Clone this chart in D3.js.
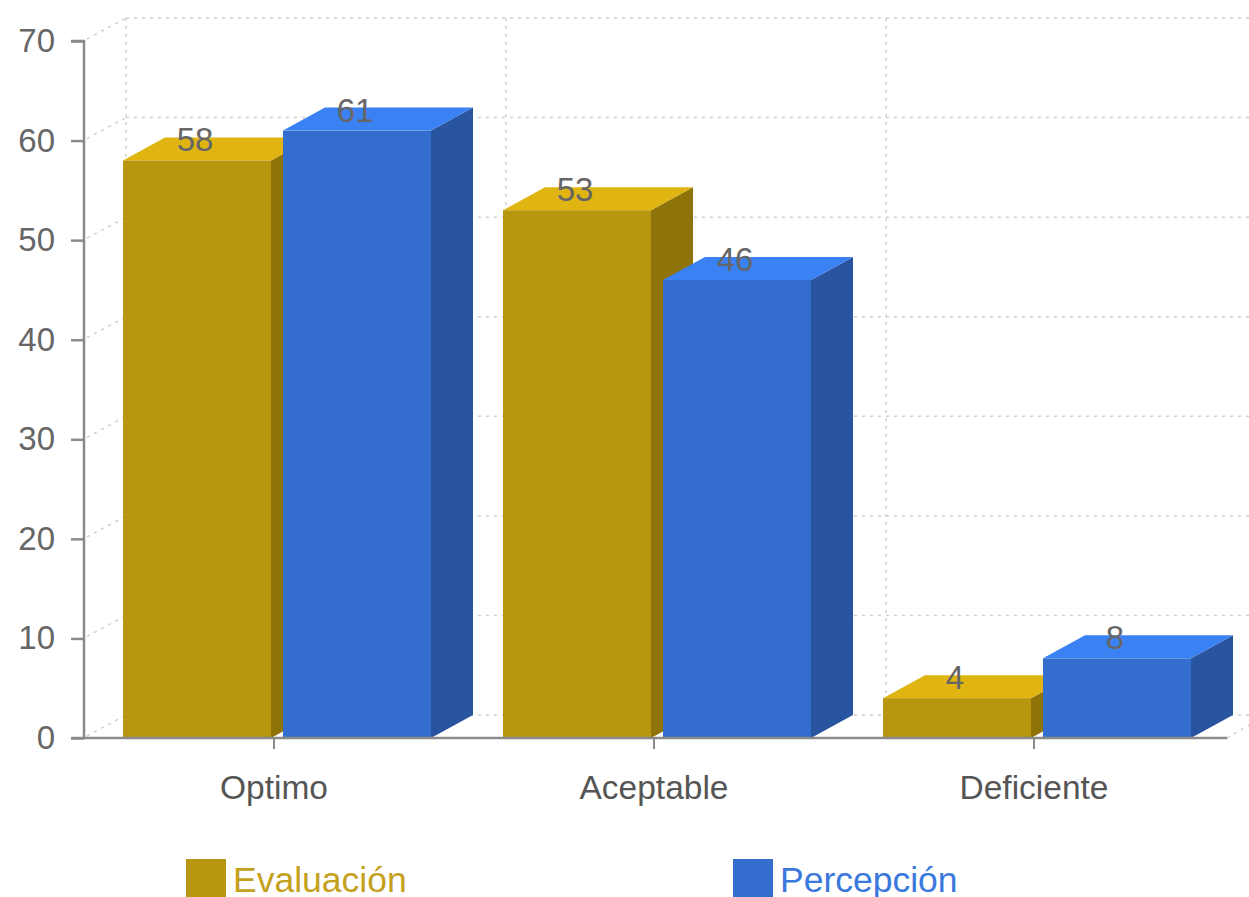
<!DOCTYPE html>
<html>
<head>
<meta charset="utf-8">
<script src="https://cdn.jsdelivr.net/npm/d3@7"></script>
<style>
  html, body { margin: 0; padding: 0; background: #ffffff; }
  svg { display: block; font-family: "Liberation Sans", Arial, sans-serif; }
</style>
</head>
<body>
<svg id="chart" width="1249" height="897"></svg>
<script>
// Chart data
const categories = ["Optimo", "Aceptable", "Deficiente"];
const seriesNames = ["Evaluación", "Percepción"];
const evaluacion = [58, 53, 4];
const percepcion = [61, 46, 8];
const yTicks = [0, 10, 20, 30, 40, 50, 60, 70];

const seriesValues = [evaluacion, percepcion];

// Face colours per series: front, top, side
const palette = [
  { front: "#b8960f", top: "#e0b512", side: "#8e7309", legend: "#c4a11c" },
  { front: "#336dcd", top: "#3a82f3", side: "#29549f", legend: "#3a78dd" }
];

const svg = d3.select("#chart");

// Plot geometry
const plotLeft = 84, plotRight = 1224, plotTop = 41, plotBottom = 738;
const depthX = 42, depthY = -23;

const y = d3.scaleLinear().domain([0, 70]).range([plotBottom, plotTop]);
const x0 = d3.scaleBand().domain(categories).range([plotLeft, plotRight]).paddingInner(0).paddingOuter(0);
const x1 = d3.scaleBand().domain(seriesNames).range([39, 347]).paddingInner(0.075).paddingOuter(0);

const gridColor = "#cfcfcf";
const dash = "3,5";

// Back wall: horizontal grid lines
const grid = svg.append("g");
yTicks.forEach(t => {
  const yy = y(t);
  grid.append("line")
    .attr("x1", plotLeft + depthX).attr("x2", 1249 + 40)
    .attr("y1", yy + depthY).attr("y2", yy + depthY)
    .attr("stroke", gridColor).attr("stroke-width", 1.5).attr("stroke-dasharray", dash);
  // left wall diagonal
  grid.append("line")
    .attr("x1", plotLeft + 3).attr("y1", yy - 2)
    .attr("x2", plotLeft + depthX).attr("y2", yy + depthY)
    .attr("stroke", gridColor).attr("stroke-width", 1.5).attr("stroke-dasharray", dash);
});

// Back wall: vertical grid lines at category boundaries
categories.forEach(c => {
  const xx = x0(c) + depthX;
  grid.append("line")
    .attr("x1", xx).attr("x2", xx)
    .attr("y1", y(70) + depthY).attr("y2", y(0) + depthY)
    .attr("stroke", gridColor).attr("stroke-width", 1.5).attr("stroke-dasharray", dash);
});

// Floor right edge diagonal
grid.append("line")
  .attr("x1", plotRight + 3).attr("y1", plotBottom)
  .attr("x2", plotRight + depthX).attr("y2", plotBottom + depthY)
  .attr("stroke", gridColor).attr("stroke-width", 1.5).attr("stroke-dasharray", dash);

// Bars as boxes
const bars = svg.append("g");
categories.forEach((c, ci) => {
  seriesNames.forEach((s, si) => {
    const v = seriesValues[si][ci];
    const bx = x0(c) + x1(s);
    const w = x1.bandwidth();
    const yt = y(v), yb = y(0);
    const col = palette[si];
    const g = bars.append("g");
    g.append("polygon")
      .attr("points", [[bx + w, yt], [bx + w + depthX, yt + depthY], [bx + w + depthX, yb + depthY], [bx + w, yb]].join(" "))
      .attr("fill", col.side);
    g.append("polygon")
      .attr("points", [[bx, yt], [bx + depthX, yt + depthY], [bx + w + depthX, yt + depthY], [bx + w, yt]].join(" "))
      .attr("fill", col.top);
    g.append("rect")
      .attr("x", bx).attr("y", yt).attr("width", w).attr("height", yb - yt)
      .attr("fill", col.front);
  });
});

// Value labels
const labels = svg.append("g")
  .attr("font-size", 33).attr("fill", "#666666").attr("text-anchor", "middle");
categories.forEach((c, ci) => {
  seriesNames.forEach((s, si) => {
    const v = seriesValues[si][ci];
    labels.append("text")
      .attr("x", x0(c) + x1(s) + x1.bandwidth() / 2 - 2)
      .attr("y", y(v) - 9)
      .text(v);
  });
});

// Y axis
const axisColor = "#8a8a8a";
const yAxis = d3.axisLeft(y).tickValues(yTicks).tickSize(13).tickPadding(16).tickFormat(d3.format("d"));
const yg = svg.append("g").attr("transform", `translate(${plotLeft},0)`).call(yAxis);
yg.select(".domain").attr("stroke", axisColor).attr("stroke-width", 2.5).attr("d", `M-13,${y(70)}H0V${y(0)}`);
yg.selectAll(".tick line").attr("stroke", axisColor).attr("stroke-width", 2.5);
yg.selectAll(".tick text").attr("font-size", 33).attr("fill", "#666666")
  .attr("font-family", "'Liberation Sans', Arial, sans-serif");

// X axis
const xAxis = d3.axisBottom(x0).tickSize(11).tickPadding(26);
const xg = svg.append("g").attr("transform", `translate(0,${plotBottom})`).call(xAxis);
xg.select(".domain").attr("stroke", axisColor).attr("stroke-width", 2.5).attr("d", `M${plotLeft - 13},0H${plotRight + 3}`);
xg.selectAll(".tick line").attr("stroke", axisColor).attr("stroke-width", 2);
xg.selectAll(".tick text").attr("font-size", 33.5).attr("fill", "#555555")
  .attr("font-family", "'Liberation Sans', Arial, sans-serif");

// Legend
const legendX = [186, 733];
const legend = svg.append("g");
seriesNames.forEach((s, si) => {
  legend.append("rect")
    .attr("x", legendX[si]).attr("y", 859).attr("width", 40).attr("height", 40)
    .attr("fill", palette[si].front);
  legend.append("text")
    .attr("x", legendX[si] + 47).attr("y", 892)
    .attr("font-size", 35.5)
    .attr("fill", palette[si].legend)
    .text(s);
});
</script>
</body>
</html>
